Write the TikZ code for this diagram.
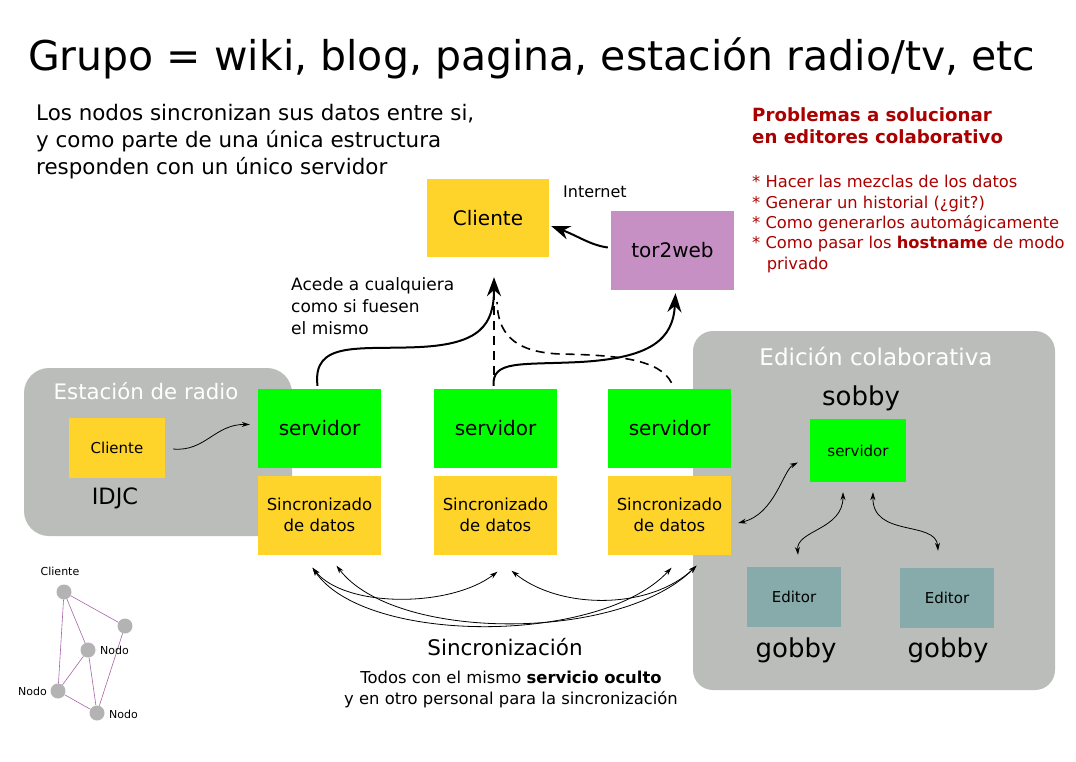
\documentclass[tikz,border=0pt]{standalone}
\usepackage{fontspec}
\setmainfont{DejaVu Sans}
\usetikzlibrary{arrows.meta,calc}
\definecolor{yel}{HTML}{FFD42A}
\definecolor{grn}{HTML}{00FF00}
\definecolor{purp}{HTML}{C790C5}
\definecolor{teal2}{HTML}{87AAAA}
\definecolor{grayb}{HTML}{BBBDBB}
\definecolor{redd}{HTML}{AA0000}
\definecolor{edgep}{HTML}{A865A8}
\definecolor{dotg}{HTML}{B3B3B3}
\begin{document}
\begin{tikzpicture}[x=1pt,y=-1pt,
  box/.style={inner sep=0pt, minimum width=123pt, minimum height=79pt, align=center},
  sbox/.style={inner sep=0pt, minimum width=95pt, minimum height=61pt, align=center},
  txt/.style={inner sep=0pt, align=left},
  thickarr/.style={line width=2pt, -{Stealth[length=19pt,width=14pt]}},
  thinarr/.style={line width=0.8pt, {Stealth[length=8pt,width=5pt]}-{Stealth[length=8pt,width=5pt]}},
  onearr/.style={line width=0.8pt, -{Stealth[length=8pt,width=5pt]}},
  dash2/.style={line width=1.6pt, dash pattern=on 9pt off 6pt},
  gdot/.style={circle, fill=dotg, minimum size=15pt, inner sep=0pt},
  gedge/.style={draw=edgep, line width=0.6pt}
]
\useasboundingbox (0,0) rectangle (1076,761);
\fill[white] (0,0) rectangle (1076,761);

% gray containers
\fill[grayb, rounded corners=25pt] (24,368) rectangle (292,536);
\fill[grayb, rounded corners=20pt] (693,331) rectangle (1055,690);

% title
\node[txt, anchor=west, font=\fontsize{41}{48}\selectfont] (title) at (28,58) {Grupo = wiki, blog, pagina, estación radio/tv, etc};

\node[txt, anchor=west, font=\fontsize{21.4}{27}\selectfont] (intro) at (36,141.5) {Los nodos sincronizan sus datos entre si,\\y como parte de una única estructura\\responden con un único servidor};

\node[txt, anchor=west, text=redd, font=\fontsize{18.2}{22}\selectfont\bfseries] (probh) at (752,126) {Problemas a solucionar\\en editores colaborativo};
\node[txt, anchor=west, text=redd, font=\fontsize{16.3}{20.3}\selectfont] (probl) at (752,224) {* Hacer las mezclas de los datos\\* Generar un historial (¿git?)\\* Como generarlos automágicamente\\* Como pasar los \textbf{hostname} de modo\\\hspace*{0.9em}privado};

% top nodes
\node[box, fill=yel, minimum width=122pt, minimum height=78pt, font=\fontsize{20}{24}\selectfont] (cli) at (488,218) {Cliente};
\node[txt, anchor=west, font=\fontsize{16}{19}\selectfont] (inet) at (563,192) {Internet};
\node[box, fill=purp, font=\fontsize{20}{24}\selectfont] (tor) at (672.5,250.5) {tor2web};

\node[txt, anchor=west, font=\fontsize{17}{22}\selectfont] (acede) at (291,306) {Acede a cualquiera\\como si fuesen\\el mismo};

% radio station
\node[inner sep=0pt, text=white, font=\fontsize{21.3}{25}\selectfont] (radiot) at (146,391) {Estación de radio};
\node[sbox, fill=yel, minimum width=96pt, minimum height=60pt, font=\fontsize{15}{18}\selectfont] (rc) at (117,448) {Cliente};
\node[inner sep=0pt, font=\fontsize{22.5}{26}\selectfont] (idjc) at (115,498) {IDJC};

% servers and sync
\tikzset{sv/.style={box, fill=grn, font=\fontsize{20}{24}\selectfont},
         sd/.style={box, fill=yel, font=\fontsize{16.5}{21}\selectfont}}
\node[sv] (s1) at (319.5,428.5) {servidor};
\node[sv] (s2) at (495.5,428.5) {servidor};
\node[sv] (s3) at (669.5,428.5) {servidor};
\node[sd] (d1) at (319.5,515) {Sincronizado\\de datos};
\node[sd] (d2) at (495.5,515) {Sincronizado\\de datos};
\node[sd] (d3) at (669.5,515) {Sincronizado\\de datos};

% collaborative editing
\node[inner sep=0pt, text=white, font=\fontsize{23}{27}\selectfont] (edt) at (876,356) {Edición colaborativa};
\node[inner sep=0pt, font=\fontsize{26}{30}\selectfont] (sobby) at (861,398) {sobby};
\node[sbox, fill=grn, minimum width=96pt, minimum height=63pt, font=\fontsize{15}{18}\selectfont] (ss) at (858,450.5) {servidor};
\node[sbox, fill=teal2, minimum width=94pt, minimum height=60pt, font=\fontsize{15}{18}\selectfont] (e1) at (794,597) {Editor};
\node[sbox, fill=teal2, minimum width=94pt, minimum height=60pt, font=\fontsize{15}{18}\selectfont] (e2) at (947,598) {Editor};
\node[inner sep=0pt, font=\fontsize{26}{30}\selectfont] (g1) at (796,650) {gobby};
\node[inner sep=0pt, font=\fontsize{26}{30}\selectfont] (g2) at (948,650) {gobby};

% bottom texts
\node[inner sep=0pt, font=\fontsize{21.5}{25}\selectfont] (sinc) at (505,647) {Sincronización};
\node[inner sep=0pt, align=center, font=\fontsize{16.4}{21}\selectfont] (todos) at (511,689) {Todos con el mismo \textbf{servicio oculto}\\y en otro personal para la sincronización};

% arrows top
\draw[thickarr] (tor.west) ++(-3,-3) .. controls (590,245) and (578,236) .. ($(cli.east)+(2,8)$);
\draw[thickarr] ($(s1.north)+(-2,-3)$) .. controls (312,340) and (360,350) .. (420,347) .. controls (480,344) and (494,325) .. ($(cli.south)+(6,20)$);
\draw[thickarr] ($(s2.north)+(-2,-3)$) .. controls (492,360) and (520,365) .. (580,362) .. controls (650,358) and (673,340) .. ($(tor.south)+(3,3)$);
\draw[dash2] ($(s2.north)+(-1.5,-14)$) -- ($(cli.south)+(6,40)$);
\draw[dash2] ($(s3.north)+(2,-6)$) .. controls (660,360) and (620,355) .. (560,354) .. controls (510,352) and (498,330) .. ($(cli.south)+(9,45)$);

% radio arrow
\draw[onearr] ($(rc.east)+(8,1)$) .. controls (205,452) and (215,424) .. ($(s1.west)+(-8,-4)$);

% sync arrows
\draw[thinarr] ($(d1.south)+(-7,13)$) .. controls (345,608) and (450,608) .. ($(d2.south)+(2,17)$);
\draw[thinarr] ($(d1.south)+(17,11)$) .. controls (395,642) and (620,642) .. ($(d3.south)+(27,11)$);
\draw[thinarr] ($(d1.south)+(-7,13)$) .. controls (365,645) and (600,645) .. ($(d3.south)+(2,13)$);
\draw[thinarr] ($(d2.south)+(16,16)$) .. controls (560,610) and (650,610) .. ($(d3.south)+(27,11)$);

% editing arrows
\draw[thinarr] ($(d3.east)+(7,8)$) .. controls (775,514) and (783,470) .. ($(ss.west)+(-12,12)$);
\draw[thinarr] ($(e1.north)+(4,-12)$) .. controls (796,530) and (843,530) .. ($(ss.south)+(-15,10)$);
\draw[thinarr] ($(ss.south)+(15,10)$) .. controls (872,538) and (936,520) .. ($(e2.north)+(-9,-17)$);

% small graph
\node[gdot] (nc) at (64,592) {};
\node[gdot] (nr) at (125,626) {};
\node[gdot] (nm) at (88,650) {};
\node[gdot] (nl) at (58,691) {};
\node[gdot] (nb) at (97,713) {};
\draw[gedge] (nc) -- (nr);
\draw[gedge] (nc) -- (nm);
\draw[gedge] (nc) -- (nl);
\draw[gedge] (nr) -- (nb);
\draw[gedge] (nm) -- (nl);
\draw[gedge] (nm) -- (nb);
\draw[gedge] (nl) -- (nb);
\node[inner sep=0pt, font=\fontsize{11}{13}\selectfont] (lc) at (60,571) {Cliente};
\node[inner sep=0pt, anchor=west, font=\fontsize{11}{13}\selectfont] (lm) at (100,650.5) {Nodo};
\node[inner sep=0pt, anchor=east, font=\fontsize{11}{13}\selectfont] (ll) at (47,691.5) {Nodo};
\node[inner sep=0pt, anchor=west, font=\fontsize{11}{13}\selectfont] (lb) at (109,714) {Nodo};
\end{tikzpicture}
\end{document}
